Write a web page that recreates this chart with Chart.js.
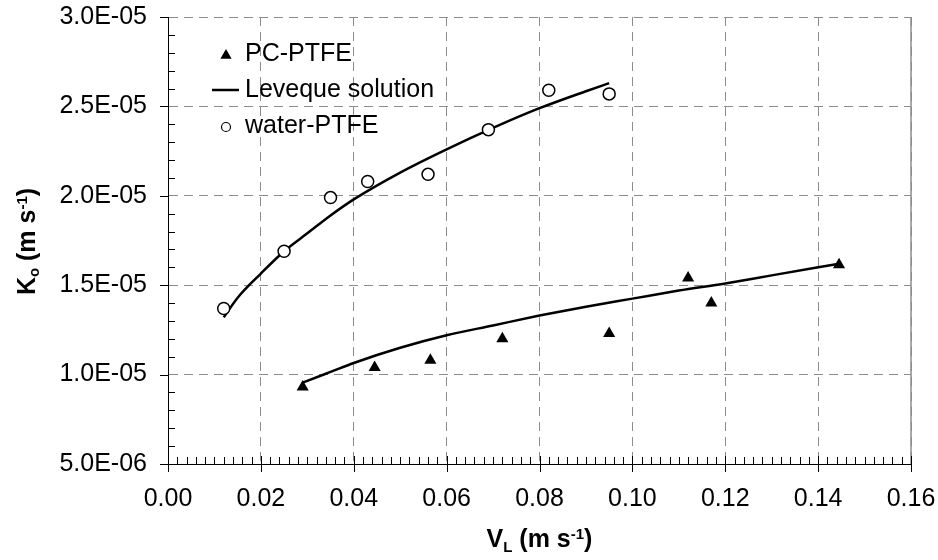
<!DOCTYPE html>
<html>
<head>
<meta charset="utf-8">
<script src="https://cdn.jsdelivr.net/npm/chart.js@4.4.1/dist/chart.umd.min.js"></script>
<style>
  html, body { margin: 0; padding: 0; background: #fff; }
  canvas { display: block; }
</style>
</head>
<body>
<canvas id="koChart" width="938" height="560"></canvas>
<script>
const FONT = "'Liberation Sans', Arial, sans-serif";

// tick labels
const xTicks = [0, 0.02, 0.04, 0.06, 0.08, 0.1, 0.12, 0.14, 0.16];
const yTicks = [5e-6, 1e-5, 1.5e-5, 2e-5, 2.5e-5, 3e-5];

// measured points
const pcX = [0.029, 0.0445, 0.0565, 0.072, 0.095, 0.112, 0.117, 0.1445];
const pcY = [0.93e-5, 1.04e-5, 1.08e-5, 1.20e-5, 1.23e-5, 1.54e-5, 1.40e-5, 1.615e-5];

const waterX = [0.012, 0.025, 0.035, 0.043, 0.056, 0.069, 0.082, 0.095];
const waterY = [1.37e-5, 1.69e-5, 1.99e-5, 2.08e-5, 2.12e-5, 2.37e-5, 2.59e-5, 2.57e-5];

// Leveque solution curves
const pcFitX = [0.029, 0.035, 0.04, 0.05, 0.06, 0.07, 0.08, 0.09, 0.1, 0.11, 0.12, 0.13, 0.1445];
const pcFitY = [0.955e-5, 1.015e-5, 1.065e-5, 1.15e-5, 1.22e-5, 1.275e-5, 1.33e-5, 1.38e-5, 1.425e-5, 1.47e-5, 1.51e-5, 1.555e-5, 1.62e-5];

const waterFitX = [0.012, 0.015, 0.02, 0.025, 0.03, 0.035, 0.04, 0.05, 0.06, 0.07, 0.08, 0.09, 0.095];
const waterFitY = [1.32e-5, 1.43e-5, 1.565e-5, 1.69e-5, 1.79e-5, 1.89e-5, 1.98e-5, 2.13e-5, 2.26e-5, 2.38e-5, 2.49e-5, 2.585e-5, 2.63e-5];

const toXY = (xs, ys) => xs.map((x, i) => ({ x: x, y: ys[i] }));

const formatSci = (v) => {
  const [m, e] = v.toExponential(1).split("e");
  const n = parseInt(e, 10);
  return m + "E" + (n < 0 ? "-" : "+") + String(Math.abs(n)).padStart(2, "0");
};

// text with sub/superscripts, parts: [text, size, dy]
const richWidth = (ctx, parts) => {
  let w = 0;
  parts.forEach(([t, size]) => {
    ctx.font = "bold " + size + "px " + FONT;
    w += ctx.measureText(t).width;
  });
  return w;
};

const drawRich = (ctx, parts, x, y) => {
  ctx.textAlign = "left";
  ctx.textBaseline = "alphabetic";
  let cx = x - richWidth(ctx, parts) / 2;
  parts.forEach(([t, size, dy]) => {
    ctx.font = "bold " + size + "px " + FONT;
    ctx.fillText(t, cx, y + (dy || 0));
    cx += ctx.measureText(t).width;
  });
};

const axisDecor = {
  id: "axisDecor",
  afterDraw(chart) {
    const { ctx, chartArea: a } = chart;
    const x = chart.scales.x;
    const y = chart.scales.y;
    ctx.save();

    // right frame
    ctx.strokeStyle = "#8c8c8c";
    ctx.lineWidth = 1.5;
    ctx.beginPath();
    ctx.moveTo(a.right, a.top);
    ctx.lineTo(a.right, a.bottom);
    ctx.stroke();

    // ticks
    ctx.strokeStyle = "#000";
    ctx.lineWidth = 1;
    ctx.beginPath();
    for (let i = 0; i <= 80; i++) {
      const px = Math.round(x.getPixelForValue(i * 0.002)) + 0.5;
      if (i % 10 === 0) {
        ctx.moveTo(px, a.bottom - 8);
        ctx.lineTo(px, a.bottom + 8);
      } else {
        ctx.moveTo(px, a.bottom - 7);
        ctx.lineTo(px, a.bottom);
      }
    }
    for (let i = 5; i <= 30; i++) {
      const py = Math.round(y.getPixelForValue(i * 1e-6)) + 0.5;
      if (i % 5 === 0) {
        ctx.moveTo(a.left - 8, py);
        ctx.lineTo(a.left, py);
      } else {
        ctx.moveTo(a.left, py);
        ctx.lineTo(a.left + 7, py);
      }
    }
    ctx.stroke();

    // axis titles
    ctx.fillStyle = "#000";
    drawRich(ctx, [["V", 25], ["L", 15, 5], [" (m s", 25], ["-1", 15, -8], [")", 25]], (a.left + a.right) / 2, 547);
    ctx.save();
    ctx.translate(35, (a.top + a.bottom) / 2 + 1);
    ctx.rotate(-Math.PI / 2);
    drawRich(ctx, [["K", 25], ["o", 15, 4], [" (m s", 25], ["-1", 15, -8], [")", 25]], 0, 0);
    ctx.restore();

    // legend
    const ds = chart.data.datasets;
    const items = [ds[0], ds[2], ds[1]];
    const rows = [54, 90, 126];
    const sx = 226;
    ctx.font = "25px " + FONT;
    ctx.textBaseline = "middle";
    ctx.textAlign = "left";
    items.forEach((d, i) => {
      const ry = rows[i];
      ctx.fillStyle = "#000";
      if (d.pointStyle === "triangle") {
        const r = 6.5;
        ctx.beginPath();
        ctx.moveTo(sx, ry - r + 1.5);
        ctx.lineTo(sx + r * 0.866, ry + r / 2 + 1.5);
        ctx.lineTo(sx - r * 0.866, ry + r / 2 + 1.5);
        ctx.closePath();
        ctx.fill();
      } else if (d.pointStyle === "circle") {
        ctx.beginPath();
        ctx.arc(sx, ry + 1, 4.5, 0, Math.PI * 2);
        ctx.fillStyle = "#fff";
        ctx.fill();
        ctx.lineWidth = 1.2;
        ctx.strokeStyle = "#000";
        ctx.stroke();
      } else {
        ctx.beginPath();
        ctx.moveTo(sx - 14, ry);
        ctx.lineTo(sx + 13, ry);
        ctx.lineWidth = 2.5;
        ctx.strokeStyle = "#000";
        ctx.stroke();
      }
      ctx.fillStyle = "#000";
      ctx.fillText(d.label, 245, ry);
    });

    ctx.restore();
  },
};

new Chart(document.getElementById("koChart"), {
  type: "scatter",
  data: {
    datasets: [
      {
        label: "PC-PTFE",
        data: toXY(pcX, pcY),
        pointStyle: "triangle",
        pointRadius: 7,
        backgroundColor: "#000",
        borderColor: "#000",
        borderWidth: 0,
      },
      {
        label: "water-PTFE",
        data: toXY(waterX, waterY),
        pointStyle: "circle",
        pointRadius: 6,
        backgroundColor: "#fff",
        borderColor: "#000",
        borderWidth: 1.5,
      },
      {
        label: "Leveque solution",
        data: toXY(pcFitX, pcFitY),
        showLine: true,
        pointRadius: 0,
        borderColor: "#000",
        borderWidth: 2.5,
        cubicInterpolationMode: "monotone",
      },
      {
        label: "Leveque solution",
        data: toXY(waterFitX, waterFitY),
        showLine: true,
        pointRadius: 0,
        borderColor: "#000",
        borderWidth: 2.5,
        cubicInterpolationMode: "monotone",
      },
    ],
  },
  options: {
    responsive: false,
    animation: false,
    events: [],
    layout: { padding: { top: 17, right: 27, left: 0, bottom: 0 } },
    plugins: {
      legend: { display: false },
      tooltip: { enabled: false },
    },
    scales: {
      x: {
        type: "linear",
        min: 0,
        max: 0.16,
        afterBuildTicks: (s) => { s.ticks = xTicks.map((v) => ({ value: v })); },
        afterFit: (s) => {
          s.height = 96;
          s.paddingLeft = 0;
          s.paddingRight = 0;
        },
        ticks: {
          callback: (v) => v.toFixed(2),
          color: "#000",
          font: { family: FONT, size: 25 },
          padding: 20,
          autoSkip: false,
          maxRotation: 0,
        },
        grid: { color: "#8c8c8c", lineWidth: 1, drawTicks: false },
        border: { display: true, color: "#000", width: 1, dash: [9, 6] },
      },
      y: {
        type: "linear",
        min: 5e-6,
        max: 3e-5,
        afterBuildTicks: (s) => { s.ticks = yTicks.map((v) => ({ value: v })); },
        afterFit: (s) => {
          s.width = 168;
          s.paddingTop = 0;
          s.paddingBottom = 0;
        },
        ticks: {
          callback: (v) => formatSci(v),
          color: "#000",
          font: { family: FONT, size: 25 },
          padding: 21,
        },
        grid: { color: "#8c8c8c", lineWidth: 1, drawTicks: false },
        border: { display: true, color: "#000", width: 1, dash: [9, 6] },
      },
    },
  },
  plugins: [axisDecor],
});
</script>
</body>
</html>
